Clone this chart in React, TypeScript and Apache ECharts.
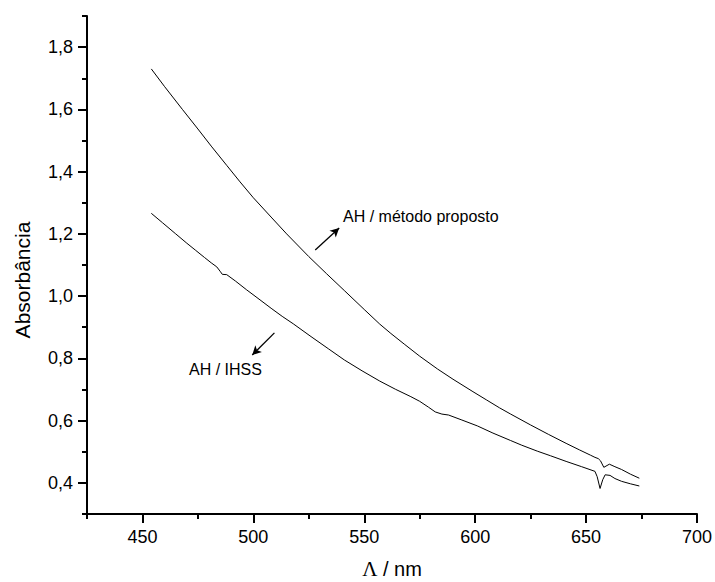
import React, { useEffect, useRef } from "react";
import * as echarts from "echarts";

// Wavelength (nm) and absorbance, AH / método proposto
const lambdaProposto = [454, 460, 468, 475, 481, 488, 494, 500, 508, 515, 525, 533, 541, 550, 557, 562, 568, 575, 583, 590, 599, 605, 611, 616, 625, 633, 641, 647, 652, 654, 655.5, 656.5, 658, 660.5, 663, 666, 670, 674];
const absProposto = [1.730, 1.673, 1.600, 1.537, 1.482, 1.420, 1.367, 1.316, 1.254, 1.200, 1.127, 1.072, 1.018, 0.957, 0.910, 0.880, 0.846, 0.807, 0.766, 0.733, 0.693, 0.667, 0.641, 0.621, 0.586, 0.556, 0.527, 0.506, 0.489, 0.482, 0.478, 0.471, 0.450, 0.460, 0.452, 0.443, 0.428, 0.415];

// AH / IHSS
const lambdaIHSS = [454, 459, 465, 470, 474, 478, 481, 483.5, 485, 486, 488, 492, 497, 503, 508, 513, 518, 526, 534, 541, 549, 557, 564, 571, 575, 579, 582, 585, 588, 594, 601, 608, 616, 621, 628, 634, 641, 648, 654, 655, 656.3, 657.5, 658.6, 660.8, 663, 666, 670, 674];
const absIHSS = [1.266, 1.236, 1.200, 1.170, 1.147, 1.124, 1.107, 1.094, 1.080, 1.070, 1.069, 1.048, 1.020, 0.988, 0.961, 0.935, 0.911, 0.870, 0.830, 0.795, 0.760, 0.727, 0.701, 0.677, 0.662, 0.643, 0.628, 0.621, 0.618, 0.602, 0.583, 0.560, 0.536, 0.521, 0.502, 0.487, 0.469, 0.452, 0.437, 0.420, 0.382, 0.410, 0.426, 0.424, 0.414, 0.405, 0.397, 0.390];

const xMajorTicks = [450, 500, 550, 600, 650, 700];
const xMinorTicks = [425, 475, 525, 575, 625, 675];
const yMajorTicks = [0.4, 0.6, 0.8, 1.0, 1.2, 1.4, 1.6, 1.8];
const yMinorTicks = [0.3, 0.5, 0.7, 0.9, 1.1, 1.3, 1.5, 1.7, 1.9];

// Annotation arrows in data coordinates [start, end]
const arrowProposto = [[527.9, 1.148], [538.7, 1.219]];
const arrowIHSS = [[509.5, 0.882], [499.5, 0.811]];

const FONT = "'Liberation Sans', Arial, sans-serif";

export default function App() {
  const ref = useRef<HTMLDivElement>(null);
  useEffect(() => {
    if (!ref.current) return;
    const chart = echarts.init(ref.current, undefined, { renderer: "svg" });
    const axisLineStyle = { color: "#000", width: 2 };
    const option: any = {
      animation: false,
      backgroundColor: "#fff",
      grid: { left: 87, right: 18, top: 16, bottom: 68, containLabel: false },
      xAxis: [
        {
          type: "value",
          min: 425,
          max: 700,
          position: "bottom",
          axisLine: { show: true, onZero: false, lineStyle: axisLineStyle },
          axisTick: { show: true, customValues: xMajorTicks, length: 9, lineStyle: axisLineStyle },
          axisLabel: { customValues: xMajorTicks, color: "#000", fontSize: 18, fontFamily: FONT, margin: 14 },
          splitLine: { show: false },
        },
        {
          type: "value",
          min: 425,
          max: 700,
          position: "bottom",
          axisLine: { show: false, onZero: false },
          axisTick: { show: true, customValues: xMinorTicks, length: 5, lineStyle: axisLineStyle },
          axisLabel: { show: false },
          splitLine: { show: false },
        },
      ],
      yAxis: [
        {
          type: "value",
          min: 0.3,
          max: 1.9,
          position: "left",
          axisLine: { show: true, onZero: false, lineStyle: axisLineStyle },
          axisTick: { show: true, customValues: yMajorTicks, length: 9, lineStyle: axisLineStyle },
          axisLabel: {
            customValues: yMajorTicks,
            color: "#000",
            fontSize: 18,
            fontFamily: FONT,
            margin: 14,
            formatter: (v: number) => v.toFixed(1).replace(".", ","),
          },
          splitLine: { show: false },
        },
        {
          type: "value",
          min: 0.3,
          max: 1.9,
          position: "left",
          axisLine: { show: false, onZero: false },
          axisTick: { show: true, customValues: yMinorTicks, length: 5, lineStyle: axisLineStyle },
          axisLabel: { show: false },
          splitLine: { show: false },
        },
      ],
      series: [
        {
          name: "AH / método proposto",
          type: "line",
          data: lambdaProposto.map((l, i) => [l, absProposto[i]]),
          showSymbol: false,
          symbol: "none",
          lineStyle: { color: "#000", width: 1 },
          markLine: {
            silent: true,
            symbol: ["none", "arrow"],
            symbolSize: [7, 9],
            label: { show: false },
            lineStyle: { color: "#000", width: 1.3, type: "solid" },
            data: [[{ coord: arrowProposto[0] }, { coord: arrowProposto[1] }]],
          },
        },
        {
          name: "AH / IHSS",
          type: "line",
          data: lambdaIHSS.map((l, i) => [l, absIHSS[i]]),
          showSymbol: false,
          symbol: "none",
          lineStyle: { color: "#000", width: 1 },
          markLine: {
            silent: true,
            symbol: ["none", "arrow"],
            symbolSize: [7, 9],
            label: { show: false },
            lineStyle: { color: "#000", width: 1.3, type: "solid" },
            data: [[{ coord: arrowIHSS[0] }, { coord: arrowIHSS[1] }]],
          },
        },
      ],
      graphic: [
        {
          type: "text",
          x: 343,
          y: 216,
          style: { text: "AH / método proposto", fill: "#000", font: `16px ${FONT}`, textAlign: "left", textVerticalAlign: "middle" },
        },
        {
          type: "text",
          x: 189,
          y: 369,
          style: { text: "AH / IHSS", fill: "#000", font: `16px ${FONT}`, textAlign: "left", textVerticalAlign: "middle" },
        },
        {
          type: "text",
          x: 22,
          y: 280,
          rotation: Math.PI / 2,
          style: { text: "Absorbância", fill: "#000", font: `21px ${FONT}`, textAlign: "center", textVerticalAlign: "middle" },
        },
        {
          type: "text",
          x: 392,
          y: 569,
          style: {
            text: "{g|Λ}{a| / nm}",
            textAlign: "center",
            textVerticalAlign: "middle",
            rich: {
              g: { fontFamily: "'Liberation Serif', serif", fontSize: 21, fill: "#000", color: "#000" },
              a: { fontFamily: FONT, fontSize: 20, fill: "#000", color: "#000" },
            },
          },
        },
      ],
    };
    chart.setOption(option);
    return () => chart.dispose();
  }, []);
  return <div ref={ref} style={{ width: 715, height: 582, position: "absolute", left: 0, top: 0 }} />;
}
